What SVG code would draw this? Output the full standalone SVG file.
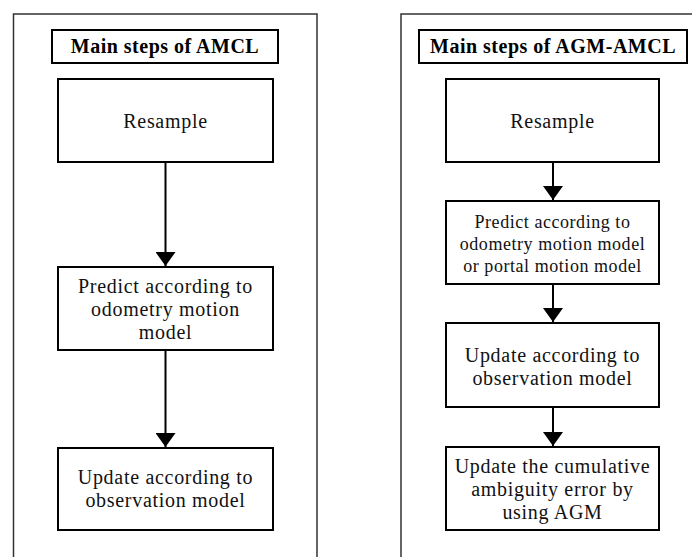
<svg xmlns="http://www.w3.org/2000/svg" width="692" height="557" viewBox="0 0 692 557">
<defs>
<style>
.outer{fill:none;stroke:#333;stroke-width:1.5}
.box{fill:#fff;stroke:#000;stroke-width:2}
.t{font-family:"Liberation Serif","Times New Roman",serif;font-size:20px;letter-spacing:0.7px;fill:#111;text-anchor:middle}
.s{font-size:18px;letter-spacing:0.55px}
.h{font-family:"Liberation Serif","Times New Roman",serif;font-size:20px;letter-spacing:0.5px;font-weight:bold;fill:#000;text-anchor:middle}
.c{stroke:#000;stroke-width:2;fill:none;marker-end:url(#ah)}
</style>
<marker id="ah" markerWidth="7" markerHeight="10" refX="7" refY="5" orient="auto" markerUnits="strokeWidth" viewBox="0 0 7 10">
<path d="M0,0 L7,5 L0,10 Z" fill="#000"/>
</marker>
</defs>
<rect x="0" y="0" width="692" height="557" fill="#fff"/>
<rect class="outer" x="13.5" y="14" width="303.5" height="560"/>
<rect class="outer" x="401" y="14" width="300" height="560"/>
<g id="title-left"><rect class="box" x="52" y="30" width="226" height="33"/><text class="h" x="165" y="53">Main steps of AMCL</text></g>
<g id="resample-left"><rect class="box" x="58" y="79" width="215" height="83"/><text class="t" x="165.5" y="128">Resample</text></g>
<g id="predict-left"><rect class="box" x="58" y="267" width="215" height="83"/><text class="t" x="165.5"><tspan x="165.5" y="293">Predict according to</tspan><tspan x="165.5" y="316">odometry motion</tspan><tspan x="165.5" y="339">model</tspan></text></g>
<g id="update-left"><rect class="box" x="58" y="448" width="215" height="82"/><text class="t" x="165.5"><tspan x="165.5" y="484">Update according to</tspan><tspan x="165.5" y="507">observation model</tspan></text></g>
<g id="title-right"><rect class="box" x="419" y="30" width="268" height="33"/><text class="h" x="553" y="53">Main steps of AGM-AMCL</text></g>
<g id="resample-right"><rect class="box" x="446" y="79" width="213" height="83"/><text class="t" x="552.5" y="128">Resample</text></g>
<g id="predict-right"><rect class="box" x="446" y="201" width="213" height="83"/><text class="t s"><tspan x="552.5" y="228">Predict according to</tspan><tspan x="552.5" y="250">odometry motion model</tspan><tspan x="552.5" y="272">or portal motion model</tspan></text></g>
<g id="update-right"><rect class="box" x="446" y="323" width="213" height="84"/><text class="t"><tspan x="552.5" y="362">Update according to</tspan><tspan x="552.5" y="385">observation model</tspan></text></g>
<g id="ambiguity-right"><rect class="box" x="446" y="447" width="213" height="83"/><text class="t"><tspan x="552.5" y="473">Update the cumulative</tspan><tspan x="552.5" y="496">ambiguity error by</tspan><tspan x="552.5" y="519">using AGM</tspan></text></g>
<g id="connectors">
<line class="c" x1="165.5" y1="163" x2="165.5" y2="266"/>
<line class="c" x1="165.5" y1="351" x2="165.5" y2="447"/>
<line class="c" x1="553" y1="163" x2="553" y2="200"/>
<line class="c" x1="553" y1="285" x2="553" y2="322"/>
<line class="c" x1="553" y1="408" x2="553" y2="446"/>
</g>
</svg>
